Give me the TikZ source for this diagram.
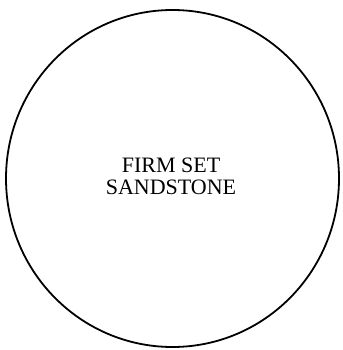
\documentclass[tikz,border=0pt]{standalone}
\usepackage{fontspec}
\setmainfont{Liberation Serif}
\begin{document}
\begin{tikzpicture}[x=1pt,y=-1pt,
  outline/.style={draw=black, line width=1.8pt},
  label/.style={align=center, font=\fontsize{22pt}{22pt}\selectfont, inner sep=0pt}]
\useasboundingbox (0,0) rectangle (342,350);
\draw[outline] (172.5,178.5) ellipse [x radius=166.5, y radius=168.5];
\node[label] (t) at (171,176.5) {FIRM SET\\SANDSTONE};
\end{tikzpicture}
\end{document}
